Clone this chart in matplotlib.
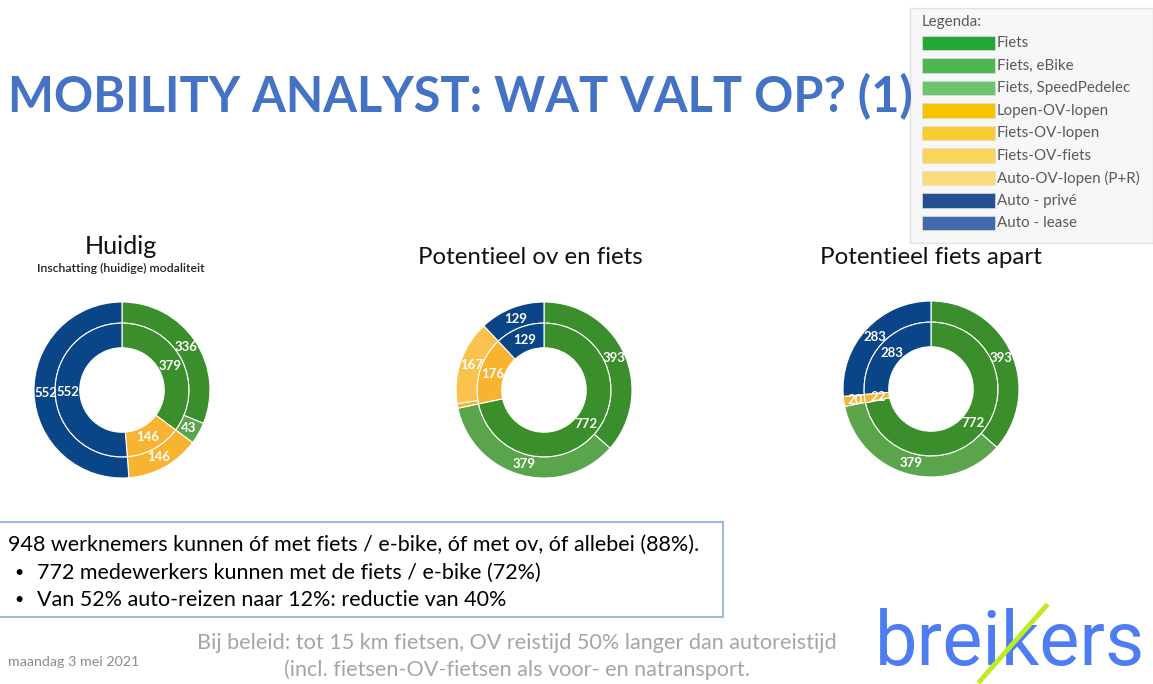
import matplotlib.pyplot as plt
import matplotlib.patches as mpatches
import numpy as np

W, H = 1153, 684

# donut data (clockwise from the top, outer ring / inner ring)
huidig_outer = [336, 43, 146, 552]
huidig_inner = [379, 146, 552]
ovfiets_outer = [393, 379, 9, 167, 129]
ovfiets_inner = [772, 176, 129]
apart_outer = [393, 379, 20, 283]
apart_inner = [772, 22, 283]

huidig_outer_labels = ["336", "43", "146", "552"]
huidig_inner_labels = ["379", "146", "552"]
ovfiets_outer_labels = ["393", "379", "", "167", "129"]
ovfiets_inner_labels = ["772", "176", "129"]
apart_outer_labels = ["393", "379", "20", "283"]
apart_inner_labels = ["772", "22", "283"]

legend_names = ["Fiets", "Fiets, eBike", "Fiets, SpeedPedelec", "Lopen-OV-lopen",
                "Fiets-OV-lopen", "Fiets-OV-fiets", "Auto-OV-lopen (P+R)",
                "Auto - privé", "Auto - lease"]
legend_colors = ["#22A836", "#4DB551", "#6CC46C", "#F5C300", "#F8CC33",
                 "#F9D55C", "#FADC7A", "#23518F", "#4169AC"]

GREEN = "#3A8E2B"
GREEN2 = "#5AA54B"
YEL = "#F8B331"
YEL2 = "#F9C24F"
NAVY = "#0A4587"

huidig_outer_colors = [GREEN, GREEN2, YEL, NAVY]
huidig_inner_colors = [GREEN, YEL, NAVY]
ovfiets_outer_colors = [GREEN, GREEN2, YEL, YEL2, NAVY]
ovfiets_inner_colors = [GREEN, YEL, NAVY]
apart_outer_colors = [GREEN, GREEN2, YEL, NAVY]
apart_inner_colors = [GREEN, YEL, NAVY]

FONT = "Lato"
plt.rcParams['font.family'] = [FONT, 'DejaVu Sans']

fig = plt.figure(figsize=(W / 100, H / 100), dpi=100)
fig.patch.set_facecolor("white")
renderer = fig.canvas.get_renderer()


def px(x, y):
    return x / W, 1 - y / H


def fit(t, width_px):
    w = t.get_window_extent(renderer).width
    t.set_fontsize(t.get_fontsize() * width_px / w)
    return t


def label_ring(ax, wedges, labels, rmid, size=9.5):
    for w, lab in zip(wedges, labels):
        if not lab:
            continue
        a = np.deg2rad((w.theta1 + w.theta2) / 2)
        ax.text(rmid * np.cos(a), rmid * np.sin(a), lab, color="white",
                fontsize=size, fontweight="bold", ha="center", va="center")


def donut(cx, cy, outer, outer_colors, outer_labels, inner, inner_colors, inner_labels):
    R = 88
    half = 100
    x0, y0 = px(cx - half, cy + half)
    ax = fig.add_axes([x0, y0, 2 * half / W, 2 * half / H])
    lim = half / R
    ax.set_aspect("equal")
    ax.axis("off")
    wp = dict(edgecolor="white", linewidth=0.8)
    wo, _ = ax.pie(outer, radius=1.0, colors=outer_colors, startangle=90,
                   counterclock=False, wedgeprops=dict(width=0.24, **wp))
    wi, _ = ax.pie(inner, radius=0.76, colors=inner_colors, startangle=90,
                   counterclock=False, wedgeprops=dict(width=0.28, **wp))
    ax.set_xlim(-lim, lim)
    ax.set_ylim(-lim, lim)
    label_ring(ax, wo, outer_labels, 0.87)
    label_ring(ax, wi, inner_labels, 0.61)


donut(122, 390, huidig_outer, huidig_outer_colors, huidig_outer_labels,
      huidig_inner, huidig_inner_colors, huidig_inner_labels)
donut(544, 390, ovfiets_outer, ovfiets_outer_colors, ovfiets_outer_labels,
      ovfiets_inner, ovfiets_inner_colors, ovfiets_inner_labels)
donut(931, 389, apart_outer, apart_outer_colors, apart_outer_labels,
      apart_inner, apart_inner_colors, apart_inner_labels)

# chart titles
t = fig.text(*px(121, 246), "Huidig", ha="center", va="center", fontsize=18, color="#111111")
fit(t, 72)
t = fig.text(*px(121, 268), "Inschatting (huidige) modaliteit", ha="center", va="center",
             fontsize=8, fontweight="semibold", color="#222222")
fit(t, 168)
t = fig.text(*px(530, 257), "Potentieel ov en fiets", ha="center", va="center", fontsize=16, color="#111111")
fit(t, 225)
t = fig.text(*px(931, 257), "Potentieel fiets apart", ha="center", va="center", fontsize=16, color="#111111")
fit(t, 223)

# legend panel
fig.add_artist(mpatches.Rectangle(px(910, 243), 243 / W, 235 / H, transform=fig.transFigure,
                                  facecolor="#F7F7F7", edgecolor="#E2E2E2", linewidth=1, zorder=0))
t = fig.text(*px(922, 22), "Legenda:", ha="left", va="center", fontsize=10, color="#595959")
fit(t, 60)
lsize = None
for i, (name, col) in enumerate(zip(legend_names, legend_colors)):
    yc = 43 + i * 22.5
    fig.add_artist(mpatches.Rectangle(px(922, yc + 7), 73 / W, 14 / H, transform=fig.transFigure,
                                      facecolor=col, edgecolor="#DDDDDD", linewidth=0.5))
    t = fig.text(*px(997, yc), name, ha="left", va="center", fontsize=10, color="#595959")
    if name == "Fiets, SpeedPedelec":
        fit(t, 133)
        lsize = t.get_fontsize()
for t in fig.texts[-len(legend_names):]:
    t.set_fontsize(lsize)

# main title
t = fig.text(*px(8, 97), "MOBILITY ANALYST: WAT VALT OP? (1)", ha="left", va="center",
             fontsize=40, fontweight="bold", color="#4472C4", zorder=5)
fit(t, 904)

# text box
fig.add_artist(mpatches.Rectangle(px(-2, 617), 725 / W, 95 / H, transform=fig.transFigure,
                                  facecolor="none", edgecolor="#8FAADC", linewidth=1.2))
t = fig.text(*px(8, 545), "948 werknemers kunnen óf met fiets / e-bike, óf met ov, óf allebei (88%).",
             ha="left", va="center", fontsize=14, color="black")
fit(t, 695)
bsize = t.get_fontsize()
for yb, line in [(573, "772 medewerkers kunnen met de fiets / e-bike (72%)"),
                 (600, "Van 52% auto-reizen naar 12%: reductie van 40%")]:
    fig.text(*px(14, yb), "•", ha="left", va="center", fontsize=bsize * 0.75, color="black")
    fig.text(*px(37, yb), line, ha="left", va="center", fontsize=bsize, color="black")

# footer
t = fig.text(*px(517, 643), "Bij beleid: tot 15 km fietsen, OV reistijd 50% langer dan autoreistijd",
             ha="center", va="center", fontsize=14, color="#A5A5A5")
fit(t, 639)
fsize = t.get_fontsize()
fig.text(*px(517, 670), "(incl. fietsen-OV-fietsen als voor- en natransport.",
         ha="center", va="center", fontsize=fsize, color="#A5A5A5")
t = fig.text(*px(8, 662), "maandag 3 mei 2021", ha="left", va="center", fontsize=8, color="#8C8C8C")
fit(t, 132)

# logo
t = fig.text(*px(1010, 645), "breikers", ha="center", va="center", fontsize=44,
             color="#4D7CF3", family="Roboto", zorder=3)
fit(t, 270)
lx0, ly0 = px(980, 681)
lx1, ly1 = px(1046, 606)
fig.add_artist(plt.Line2D([lx0, lx1], [ly0, ly1], transform=fig.transFigure,
                          color="#BDEB24", linewidth=3.5, zorder=4))

fig.savefig("out.png", dpi=100)
